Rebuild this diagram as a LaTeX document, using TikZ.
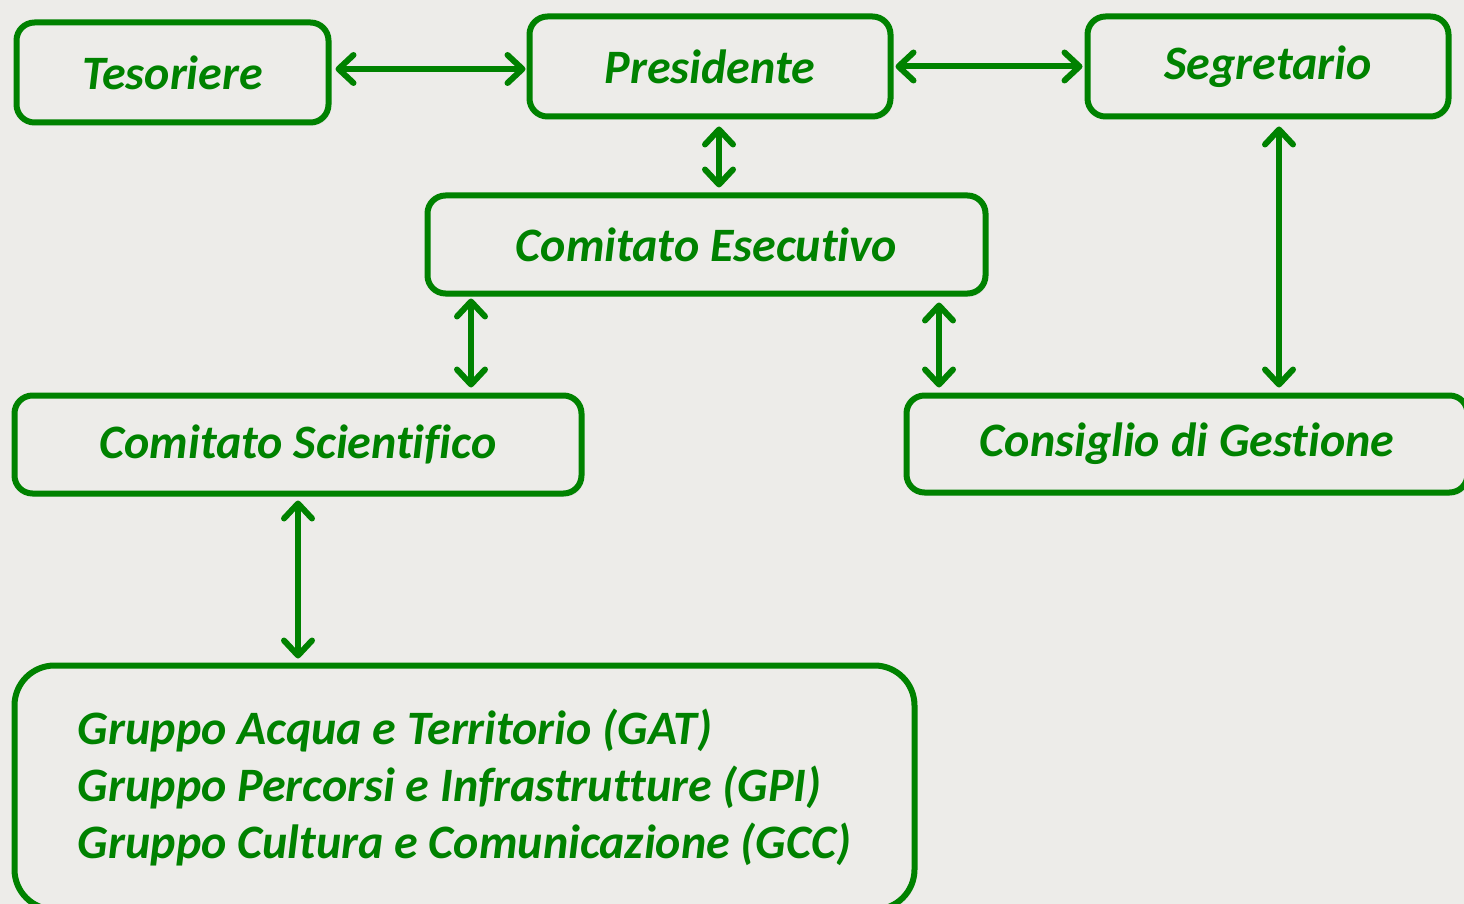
\documentclass[tikz,border=0pt]{standalone}
\usepackage{fontspec}
\setmainfont{Carlito}[Ligatures=NoCommon]
\usetikzlibrary{arrows.meta,shadows}
\definecolor{verde}{RGB}{0,130,0}
\definecolor{sfondo}{RGB}{237,236,233}
\tikzset{
ufficio/.style={draw=verde, line width=6pt, rounded corners=18pt, fill=sfondo,
  text=verde, inner sep=0pt,
  font=\fontsize{48}{57}\selectfont\bfseries\itshape,
  drop shadow={opacity=0.18, shadow xshift=2pt, shadow yshift=-3pt}},
legame/.style={draw=verde, line width=6pt,
  {Straight Barb[round,length=15pt,width=28pt]}-{Straight Barb[round,length=15pt,width=28pt]}},
}
\begin{document}
\begin{tikzpicture}[x=1pt,y=-1pt]
\fill[sfondo] (0,0) rectangle (1464,904);
\useasboundingbox (0,0) rectangle (1464,904);

\node[ufficio, minimum width=312pt, minimum height=100pt] (tes) at (172.5,72.5) {Tesoriere};
\node[ufficio, minimum width=361pt, minimum height=100pt] (pres) at (710,66.5) {Presidente};
\node[ufficio, minimum width=361pt, minimum height=100pt] (segr) at (1268,66.5) {Segretario};
\node[ufficio, minimum width=558pt, minimum height=98pt] (esec) at (706.5,244.5) {Comitato Esecutivo};
\node[ufficio, minimum width=567pt, minimum height=98pt] (scient) at (298,444.5) {Comitato Scientifico};
\node[ufficio, minimum width=561pt, minimum height=97pt] (gest) at (1187,444) {Consiglio di Gestione};
\node[ufficio, rounded corners=40pt, align=left, minimum width=900pt, minimum height=244pt] (gruppi) at (464.5,787.5)
  {Gruppo Acqua e Territorio (GAT)\\Gruppo Percorsi e Infrastrutture (GPI)\\Gruppo Cultura e Comunicazione (GCC)};

\draw[legame, shorten <=4pt, shorten >=1pt] (tes.east |- 0,69) -- (pres.west |- 0,69);
\draw[legame, shorten <=2pt, shorten >=2pt] (pres.east) -- (segr.west);
\draw[legame, shorten <=7pt, shorten >=5pt] (719,0 |- pres.south) -- (719,0 |- esec.north);
\draw[legame, shorten <=2pt, shorten >=5pt] (471,0 |- esec.south) -- (471,0 |- scient.north);
\draw[legame, shorten <=6pt, shorten >=5pt] (939,0 |- esec.south) -- (939,0 |- gest.north);
\draw[legame, shorten <=7pt, shorten >=5pt] (1279,0 |- segr.south) -- (1279,0 |- gest.north);
\draw[legame, shorten <=4pt, shorten >=4pt] (298,0 |- scient.south) -- (298,0 |- gruppi.north);
\end{tikzpicture}
\end{document}
